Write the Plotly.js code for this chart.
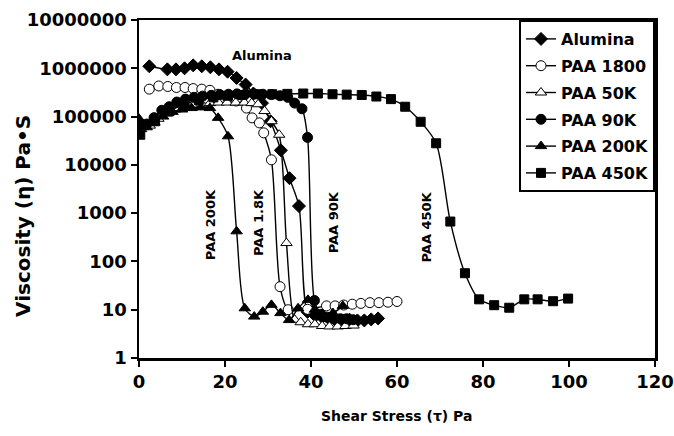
<!DOCTYPE html>
<html>
<head>
<meta charset="utf-8">
<script src="https://cdn.plot.ly/plotly-3.0.1.min.js"></script>
<style>html,body{margin:0;padding:0;background:#fff;}#chart{width:674px;height:436px;}</style>
</head>
<body>
<div id="chart"></div>
<script>
// ---- data ----
const aluminaX = [2.4, 6.6, 8.6, 10.6, 12.6, 14.6, 16.6, 18.6, 20.6, 22.7, 24.8, 26.6, 28.6, 30.6, 33.0, 35.0, 37.2, 39.2, 41.0, 42.6, 44.2, 45.8, 47.4, 49.0, 50.8, 52.4, 54.0, 55.6];
const aluminaY = [1.1e6, 9.5e5, 9.5e5, 1.0e6, 1.15e6, 1.1e6, 1.05e6, 9.5e5, 8.5e5, 6.3e5, 4.6e5, 3.0e5, 1.9e5, 8.0e4, 2.0e4, 5.3e3, 1.4e3, 9, 7.5, 7, 6.5, 6, 6, 6.2, 6, 6, 6.3, 6.6];

const paa1800X = [2.4, 4.6, 6.7, 8.7, 10.7, 12.6, 14.6, 16.5, 18.4, 20.5, 22.6, 25.0, 26.3, 28.0, 29.0, 30.8, 32.8, 34.7, 39.2, 43.6, 45.6, 47.6, 49.6, 51.6, 53.7, 55.8, 57.9, 60.0];
const paa1800Y = [3.7e5, 4.3e5, 4.2e5, 4.0e5, 4.0e5, 3.8e5, 3.7e5, 3.5e5, 2.9e5, 2.5e5, 2.1e5, 1.5e5, 9.4e4, 7.4e4, 4.6e4, 1.27e4, 30, 10, 10.2, 12, 12, 12.5, 13, 13.5, 14, 14, 14.3, 14.8];

const paa50kX = [0.5, 2.5, 4.5, 6.5, 8.5, 10.5, 12.5, 14.5, 16.5, 18.5, 20.5, 22.5, 24.5, 26.2, 27.7, 29.2, 30.8, 32.6, 34.3, 36.2, 37.6, 39.3, 40.9, 42.6, 44.3, 46.2, 48.0, 49.9];
const paa50kY = [5.5e4, 6.5e4, 9.0e4, 1.15e5, 1.4e5, 1.6e5, 1.75e5, 1.85e5, 1.9e5, 1.95e5, 1.95e5, 1.95e5, 1.95e5, 1.9e5, 1.8e5, 1.3e5, 8.0e4, 4.2e4, 240, 6.2, 5.5, 5.0, 5.0, 4.6, 4.5, 4.5, 4.6, 4.7];

const paa90kX = [0.0, 1.8, 3.5, 5.3, 7.0, 8.8, 10.8, 12.8, 14.8, 16.8, 18.8, 20.8, 22.8, 24.8, 26.8, 28.8, 30.8, 32.8, 34.6, 36.2, 37.9, 39.2, 40.8, 42.3, 43.8, 45.3, 46.8, 48.3, 49.8];
const paa90kY = [6.5e4, 7.0e4, 9.5e4, 1.35e5, 1.6e5, 2.0e5, 2.3e5, 2.5e5, 2.65e5, 2.75e5, 2.85e5, 2.9e5, 2.95e5, 2.95e5, 2.95e5, 2.9e5, 2.85e5, 2.7e5, 2.5e5, 1.9e5, 1.45e5, 3.7e4, 15.5, 8, 7, 6.5, 6.5, 6.5, 6.2];

const paa200kX = [0.0, 1.8, 3.6, 5.6, 7.8, 10.0, 12.2, 14.3, 16.5, 18.4, 20.7, 22.7, 24.6, 26.8, 28.8, 30.8, 32.9, 34.9, 37.0, 39.3, 40.9, 42.8, 45.1, 47.4];
const paa200kY = [9.0e4, 6.0e4, 7.5e4, 1.0e5, 1.25e5, 1.4e5, 1.5e5, 1.55e5, 1.5e5, 9.4e4, 3.9e4, 420, 10.7, 7.2, 9.1, 12.6, 8.5, 6.1, 10.7, 16, 10, 8, 8.5, 12];

const paa450kX = [0.3, 3.7, 7.1, 10.5, 13.9, 17.3, 20.7, 24.1, 27.3, 31.0, 34.5, 38.2, 41.6, 45.0, 48.3, 51.8, 55.2, 58.6, 61.9, 65.5, 69.1, 72.4, 75.8, 79.1, 82.6, 86.1, 89.6, 92.7, 96.3, 99.8];
const paa450kY = [4.2e4, 8.0e4, 1.3e5, 1.8e5, 2.2e5, 2.5e5, 2.7e5, 2.8e5, 2.9e5, 2.9e5, 2.95e5, 3.0e5, 3.0e5, 2.9e5, 2.85e5, 2.8e5, 2.6e5, 2.3e5, 1.6e5, 7.8e4, 2.8e4, 670, 57, 16.4, 12.4, 11, 16.4, 16.4, 15, 17];

const seriesNames = ["Alumina", "PAA 1800", "PAA 50K", "PAA 90K", "PAA 200K", "PAA 450K"];
const yTickVals = [1, 10, 100, 1000, 10000, 100000, 1000000, 10000000];
const yTickText = ["1", "10", "100", "1000", "10000", "100000", "1000000", "10000000"];
const xTickVals = [0, 20, 40, 60, 80, 100, 120];

// curve labels in the chart
const labelTexts = ["Alumina", "PAA 200K", "PAA 1.8K", "PAA 90K", "PAA 450K"];
const labelX = [28.5, 16.8, 27.8, 45.3, 66.8];
const labelY = [1.85e6, 570, 640, 640, 510];
const labelAngle = [0, -90, -90, -90, -90];

// ---- styling ----
const FONT = "DejaVu Sans, Arial, sans-serif";
const symbols = ["diamond", "circle", "triangle-up", "circle", "triangle-up", "square"];
const fills = ["#000", "#fff", "#fff", "#000", "#000", "#000"];
const sizes = [10, 10, 10, 10, 10, 9];
const xs = [aluminaX, paa1800X, paa50kX, paa90kX, paa200kX, paa450kX];
const ys = [aluminaY, paa1800Y, paa50kY, paa90kY, paa200kY, paa450kY];

const traces = seriesNames.map((n, i) => ({
  type: "scatter",
  mode: "lines+markers",
  name: n,
  legendgroup: "g" + i,
  x: xs[i],
  y: ys[i],
  line: {color: "#000", width: 1.4, shape: "spline", smoothing: 0.8},
  marker: {
    symbol: symbols[i],
    size: sizes[i],
    color: fills[i],
    line: {color: "#000", width: 1}
  }
}));

const annotations = labelTexts.map((t, i) => ({
  text: t, x: labelX[i], y: Math.log10(labelY[i]), xref: "x", yref: "y",
  showarrow: false, textangle: labelAngle[i],
  font: {family: FONT, size: 13, color: "#000", weight: "bold"},
  xanchor: "center", yanchor: "middle"
}));
annotations.push({
  text: "Viscosity (η) Pa•S", xref: "paper", yref: "paper",
  x: -0.225, y: 0.42, textangle: -90, showarrow: false,
  xanchor: "center", yanchor: "middle",
  font: {family: FONT, size: 20, color: "#000", weight: "bold"}
});
annotations.push({
  text: "Shear Stress (τ) Pa", xref: "paper", yref: "paper",
  x: 0.499, y: -0.172, showarrow: false,
  xanchor: "center", yanchor: "middle",
  font: {family: FONT, size: 14, color: "#000", weight: "bold"}
});

const layout = {
  width: 674, height: 436,
  margin: {l: 139, r: 19, t: 20, b: 78, pad: 0},
  paper_bgcolor: "#fff", plot_bgcolor: "#fff",
  showlegend: true,
  legend: {
    x: 1, xanchor: "right", y: 1, yanchor: "top",
    bgcolor: "#fff", bordercolor: "#000", borderwidth: 2,
    font: {family: FONT, size: 16, color: "#000", weight: "bold"},
    traceorder: "grouped", tracegroupgap: 3
  },
  xaxis: {
    range: [0, 120], tickvals: xTickVals, ticktext: xTickVals.map(String),
    showgrid: false, zeroline: false,
    showline: true, linecolor: "#000", linewidth: 2.5, mirror: true,
    ticks: "outside", ticklen: 6, tickwidth: 2, tickcolor: "#000",
    tickfont: {family: FONT, size: 18, color: "#000", weight: "bold"}
  },
  yaxis: {
    type: "log", range: [0, 7], tickvals: yTickVals, ticktext: yTickText,
    showgrid: false, zeroline: false,
    showline: true, linecolor: "#000", linewidth: 2.5, mirror: true,
    ticks: "outside", ticklen: 6, tickwidth: 2, tickcolor: "#000",
    tickfont: {family: FONT, size: 18, color: "#000", weight: "bold"}
  },
  annotations: annotations
};

Plotly.newPlot("chart", traces, layout, {displayModeBar: false, staticPlot: true});
</script>
</body>
</html>
